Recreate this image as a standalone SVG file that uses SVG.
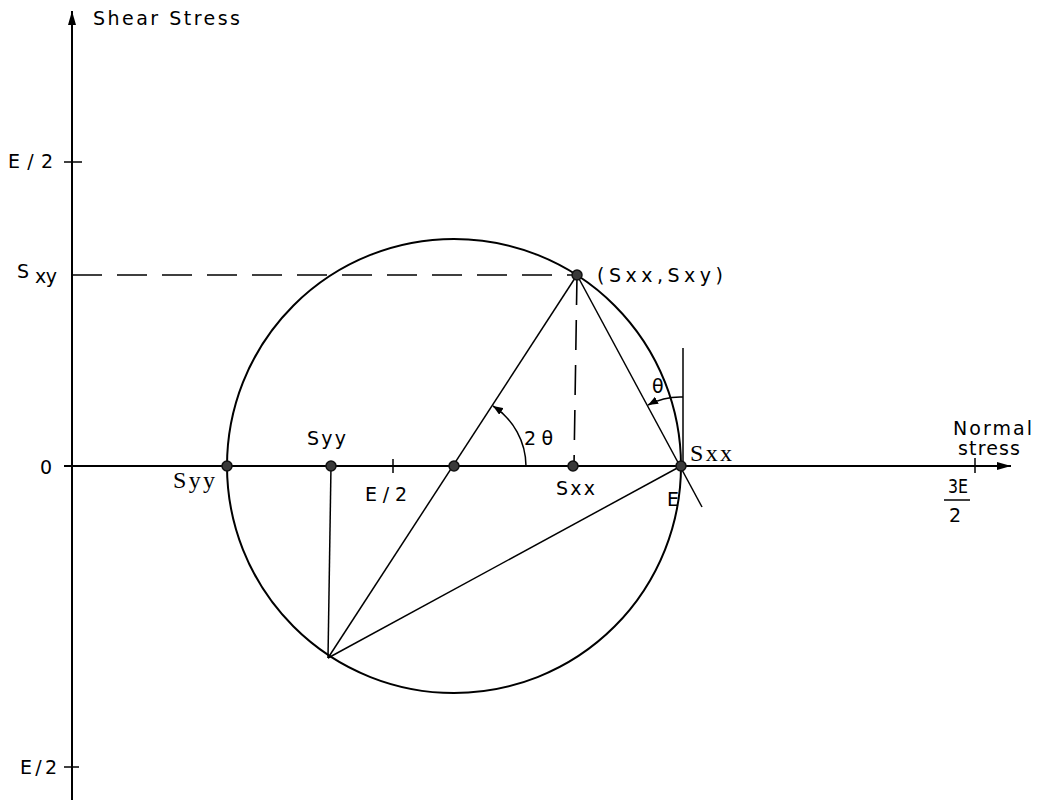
<svg xmlns="http://www.w3.org/2000/svg" width="1040" height="800" viewBox="0 0 1040 800">
<defs>
<style>
.ax{stroke:#000;stroke-width:2;fill:none}
.ln{stroke:#000;stroke-width:1.5;fill:none}
.ds{stroke:#000;stroke-width:1.6;fill:none;stroke-dasharray:30 15}
.t{font-family:"DejaVu Sans","Liberation Sans",sans-serif;font-size:19px;fill:#000}
.s{font-family:"Liberation Serif","DejaVu Serif",serif;font-size:24px;fill:#000}
.dot{fill:#3a3a3a;stroke:#111;stroke-width:1.5}
</style>
<marker id="ah" viewBox="0 0 10 8" refX="10" refY="4" markerWidth="10" markerHeight="8" markerUnits="userSpaceOnUse" orient="auto">
<path d="M0,0 L10,4 L0,8 Z" fill="#000"/>
</marker>
<marker id="big" viewBox="0 0 14 8" refX="14" refY="4" markerWidth="14" markerHeight="8" markerUnits="userSpaceOnUse" orient="auto">
<path d="M0,0 L14,4 L0,8 Z" fill="#000"/>
</marker>
</defs>
<rect width="1040" height="800" fill="#fff"/>
<g id="axes">
<line class="ax" x1="72" y1="800" x2="72" y2="11" marker-end="url(#big)"/>
<line class="ax" x1="64" y1="466" x2="1011" y2="466" marker-end="url(#big)"/>
<line class="ln" x1="64" y1="162" x2="82" y2="162"/>
<line class="ln" x1="64" y1="767" x2="79" y2="767"/>
<line class="ln" x1="393" y1="459" x2="393" y2="473"/>
<line class="ln" x1="975" y1="458" x2="975" y2="473"/>
</g>
<g id="circle">
<circle class="ax" cx="454" cy="466" r="227"/>
</g>
<g id="connectors">
<line class="ds" x1="72" y1="275" x2="577" y2="275"/>
<line class="ds" x1="577" y1="275" x2="574" y2="466"/>
<line class="ln" x1="577" y1="275" x2="328" y2="658"/>
<line class="ln" x1="577" y1="275" x2="702" y2="507"/>
<line class="ln" x1="328" y1="658" x2="681" y2="466"/>
<line class="ln" x1="331" y1="466" x2="328" y2="658"/>
<line class="ln" x1="683" y1="348" x2="683" y2="466"/>
<path class="ln" d="M526,466 A72,72 0 0 0 493,406" marker-end="url(#ah)"/>
<path class="ln" d="M683,397 A69,69 0 0 0 648,405" marker-end="url(#ah)"/>
</g>
<g id="points">
<circle class="dot" cx="227" cy="466" r="5"/>
<circle class="dot" cx="331" cy="466" r="5"/>
<circle class="dot" cx="454" cy="466" r="5"/>
<circle class="dot" cx="573" cy="466" r="5"/>
<circle class="dot" cx="681" cy="466" r="5"/>
<circle class="dot" cx="577" cy="275" r="5"/>
</g>
<g id="labels">
<text class="t" x="93" y="25" font-size="20" textLength="147" lengthAdjust="spacing">Shear Stress</text>
<text class="t" x="8" y="168" font-size="18" textLength="45" lengthAdjust="spacing">E/2</text>
<text class="t" x="17" y="278" font-size="20">S</text>
<text class="t" x="35" y="283" font-size="15" textLength="22" lengthAdjust="spacing">xy</text>
<text class="t" x="40" y="474" font-size="20">0</text>
<text class="t" x="20" y="774" font-size="18" textLength="37" lengthAdjust="spacing">E/2</text>
<text class="s" x="173" y="488" textLength="42" lengthAdjust="spacing">Syy</text>
<text class="t" x="307" y="445" textLength="39" lengthAdjust="spacing">Syy</text>
<text class="t" x="365" y="501" font-size="18" textLength="42" lengthAdjust="spacing">E/2</text>
<text class="t" x="524" y="445" textLength="29" lengthAdjust="spacing">2θ</text>
<text class="t" x="556" y="495" textLength="39" lengthAdjust="spacing">Sxx</text>
<text class="t" x="652" y="393">θ</text>
<text class="s" x="690" y="461" textLength="42" lengthAdjust="spacing">Sxx</text>
<text class="t" x="667" y="506" font-size="21">E</text>
<text class="t" x="597" y="282" textLength="126" lengthAdjust="spacing">(Sxx,Sxy)</text>
<text class="t" x="953" y="435" font-size="16" textLength="79" lengthAdjust="spacing">Normal</text>
<text class="t" x="958" y="455" font-size="16" textLength="62" lengthAdjust="spacing">stress</text>
<text class="t" x="948" y="493" font-size="18" textLength="20" lengthAdjust="spacingAndGlyphs">3E</text>
<line class="ln" x1="944" y1="500" x2="970" y2="500"/>
<text class="t" x="949" y="522" font-size="18">2</text>
</g>
</svg>
